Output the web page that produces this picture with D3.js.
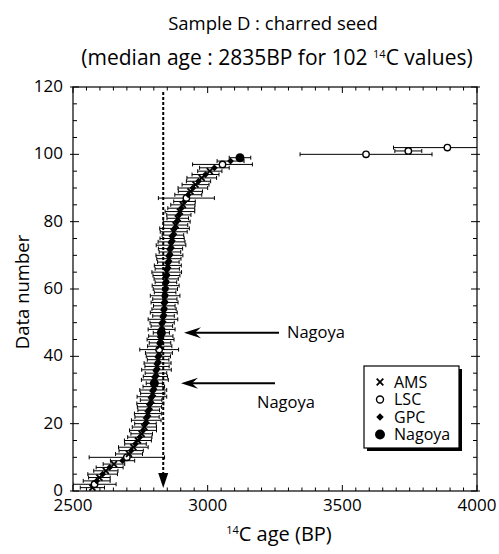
<!DOCTYPE html>
<html><head><meta charset="utf-8">
<script src="https://cdn.jsdelivr.net/npm/d3@7"></script>
<style>
body{margin:0;background:#fff}
svg{display:block}
text{font-family:"Open Sans","DejaVu Sans",sans-serif;fill:#000}
</style>
</head><body>
<svg id="c" width="499" height="554"></svg>
<script>
// ---- data ----
const ages = [
 2572,2580,2588,2598,2610,2622,2636,2652,2684,2700,
 2708,2716,2724,2732,2741,2748,2755,2760,2765,2769,
 2772,2775,2778,2781,2784,2787,2790,2793,2796,2798,
 2800,2802,2804,2806,2808,2810,2812,2814,2816,2817,
 2819,2820,2822,2823,2825,2826,2828,2829,2830,2831,
 2834,2836,2837,2838,2839,2840,2841,2842,2842,2843,
 2844,2845,2846,2847,2848,2850,2852,2854,2856,2858,
 2860,2862,2864,2866,2868,2871,2874,2877,2881,2885,
 2889,2893,2897,2902,2908,2914,2921,2928,2936,2945,
 2955,2966,2978,2992,3008,3025,3055,3085,3120,
 3588,3745,3890];
const errors = [
 45,80,50,40,55,45,50,40,45,140,
 50,45,55,40,50,45,40,50,45,40,
 55,45,50,40,45,50,40,55,45,50,
 40,30,50,45,40,55,45,50,40,45,
 50,72,45,40,50,45,30,50,40,45,
 55,40,50,45,40,50,45,55,40,45,
 50,40,45,50,55,45,50,40,45,50,
 40,45,55,50,45,40,50,55,45,50,
 40,45,55,50,45,40,104,50,45,55,
 50,45,55,50,45,55,111,50,40,
 245,50,200];
const methods = [
 "AMS","LSC","GPC","AMS","GPC","AMS","GPC","AMS","GPC","LSC",
 "AMS","GPC","AMS","GPC","AMS","GPC","AMS","GPC","AMS","GPC",
 "AMS","GPC","AMS","GPC","AMS","GPC","AMS","GPC","AMS","GPC",
 "AMS","Nagoya","AMS","GPC","AMS","GPC","AMS","GPC","AMS","GPC",
 "AMS","LSC","AMS","GPC","AMS","GPC","Nagoya","GPC","AMS","GPC",
 "AMS","GPC","AMS","GPC","AMS","GPC","AMS","GPC","AMS","GPC",
 "AMS","GPC","AMS","GPC","AMS","GPC","AMS","GPC","AMS","GPC",
 "AMS","GPC","AMS","GPC","AMS","GPC","AMS","GPC","AMS","GPC",
 "AMS","GPC","AMS","GPC","AMS","GPC","LSC","GPC","AMS","GPC",
 "AMS","GPC","AMS","GPC","AMS","GPC","LSC","GPC","Nagoya",
 "LSC","LSC","LSC"];
const medianAge = 2835;
const xTickLabels = [2500,3000,3500,4000];
const yTickLabels = [0,20,40,60,80,100,120];
const legendItems = ["AMS","LSC","GPC","Nagoya"];
const arrowPoints = [47,32];          // data numbers pointed at by "Nagoya" arrows
const arrowLabels = ["Nagoya","Nagoya"];

// ---- layout ----
const svg = d3.select("#c");
const L=73,R=477,T=87,B=491;
const x = d3.scaleLinear().domain([2500,4000]).range([L,R]);
const y = d3.scaleLinear().domain([0,120]).range([B,T]);
const data = ages.map((a,i)=>({n:i+1,age:a,err:errors[i],m:methods[i]}));

// titles
svg.append("text").attr("x",273).attr("y",30).attr("text-anchor","middle")
  .attr("font-size",18.5).text("Sample D : charred seed");
const sub = svg.append("text").attr("x",277).attr("y",65).attr("text-anchor","middle").attr("font-size",21);
sub.append("tspan").text("(median age : 2835BP for 102 ");
sub.append("tspan").attr("font-size",11).attr("dy",-7).text("14");
sub.append("tspan").attr("dy",7).text("C values)");

// axis titles
const xt = svg.append("text").attr("x",279).attr("y",541).attr("text-anchor","middle").attr("font-size",20);
xt.append("tspan").attr("font-size",11).attr("dy",-7.5).text("14");
xt.append("tspan").attr("dy",7.5).text("C age (BP)");
svg.append("text").attr("transform","translate(29,292) rotate(-90)").attr("text-anchor","middle")
  .attr("font-size",18.5).text("Data number");

// clip
svg.append("clipPath").attr("id","clip").append("rect")
  .attr("x",L).attr("y",T).attr("width",R-L).attr("height",B-T);

const g = svg.append("g").attr("clip-path","url(#clip)");

// error bars
const cap=2;
const eb = g.append("g").attr("stroke","#000").attr("stroke-width",1);
data.forEach(d=>{
  const yy=y(d.n), x0=x(d.age-d.err), x1=x(d.age+d.err);
  eb.append("line").attr("x1",x0).attr("x2",x1).attr("y1",yy).attr("y2",yy);
  eb.append("line").attr("x1",x0).attr("x2",x0).attr("y1",yy-cap).attr("y2",yy+cap);
  eb.append("line").attr("x1",x1).attr("x2",x1).attr("y1",yy-cap).attr("y2",yy+cap);
});

// median line
g.append("line").attr("x1",x(medianAge)).attr("x2",x(medianAge))
  .attr("y1",T+5).attr("y2",B-16).attr("stroke","#000").attr("stroke-width",2).attr("stroke-dasharray","3,2");
g.append("path").attr("d",`M${x(medianAge)-5},${B-18}L${x(medianAge)+5},${B-18}L${x(medianAge)},${B-3}Z`).attr("fill","#000");

// markers
function marker(sel,m,cx,cy,k){
  k = k||1;
  if(m==="AMS"){
    const s=3*k;
    sel.append("path").attr("d",`M${cx-s},${cy-s}L${cx+s},${cy+s}M${cx-s},${cy+s}L${cx+s},${cy-s}`)
      .attr("stroke","#000").attr("stroke-width",1.8);
  } else if(m==="LSC"){
    sel.append("circle").attr("cx",cx).attr("cy",cy).attr("r",3.2*k).attr("fill","#fff").attr("stroke","#000").attr("stroke-width",1.4);
  } else if(m==="GPC"){
    const s=3.4*k;
    sel.append("path").attr("d",`M${cx},${cy-s}L${cx+s},${cy}L${cx},${cy+s}L${cx-s},${cy}Z`).attr("fill","#000");
  } else {
    sel.append("circle").attr("cx",cx).attr("cy",cy).attr("r",4.5*k).attr("fill","#000");
  }
}
const mk = g.append("g");
data.forEach(d=>marker(mk,d.m,x(d.age),y(d.n)));

// frame
svg.append("rect").attr("x",L).attr("y",T).attr("width",R-L).attr("height",B-T)
  .attr("fill","none").attr("stroke","#000").attr("stroke-width",1.2);

// ticks
const tk = svg.append("g").attr("stroke","#000").attr("stroke-width",1);
d3.range(2500,4001,50).forEach(v=>{
  const major = v%500===0, len = major?6:3.5, xx=x(v);
  tk.append("line").attr("x1",xx).attr("x2",xx).attr("y1",B).attr("y2",B-len);
  tk.append("line").attr("x1",xx).attr("x2",xx).attr("y1",T).attr("y2",T+len);
});
d3.range(0,121,5).forEach(v=>{
  const major = v%20===0, yy=y(v);
  const li = major?6:4, lo = major?3:0;
  tk.append("line").attr("x1",L-lo).attr("x2",L+li).attr("y1",yy).attr("y2",yy);
  tk.append("line").attr("x1",R-li).attr("x2",R+lo).attr("y1",yy).attr("y2",yy);
});

// tick labels
svg.append("g").selectAll("text").data(xTickLabels).join("text")
  .attr("x",d=>x(d)).attr("y",511).attr("text-anchor","middle").attr("font-size",17).text(d=>d);
svg.append("g").selectAll("text").data(yTickLabels).join("text")
  .attr("x",63).attr("y",d=>y(d)).attr("dy","0.3em").attr("text-anchor","end").attr("font-size",17).text(d=>d);

// arrows with labels
const arrowGeom = [{tip:184,tail:279,lx:287,ly:338},{tip:181,tail:275,lx:257,ly:408}];
arrowPoints.forEach((n,i)=>{
  const a=arrowGeom[i], yy=y(n);
  svg.append("line").attr("x1",a.tip+8).attr("x2",a.tail).attr("y1",yy).attr("y2",yy)
    .attr("stroke","#000").attr("stroke-width",2);
  svg.append("path").attr("d",`M${a.tip},${yy}L${a.tip+17},${yy-5.5}L${a.tip+11},${yy}L${a.tip+17},${yy+5.5}Z`).attr("fill","#000");
  svg.append("text").attr("x",a.lx).attr("y",a.ly).attr("font-size",16.5).text(arrowLabels[i]);
});

// legend
const lg = svg.append("g");
const lx0=364, ly0=366, lw=95, lh=82;
lg.append("rect").attr("x",lx0+3).attr("y",ly0+3).attr("width",lw).attr("height",lh).attr("fill","#000");
lg.append("rect").attr("x",lx0).attr("y",ly0).attr("width",lw).attr("height",lh).attr("fill","#fff").attr("stroke","#000").attr("stroke-width",1.2);
legendItems.forEach((m,i)=>{
  const cy = ly0+16+i*17.5;
  marker(lg,m,lx0+16,cy,1.1);
  lg.append("text").attr("x",lx0+30).attr("y",cy).attr("dy","0.35em").attr("font-size",16).text(m);
});
</script>
</body></html>
